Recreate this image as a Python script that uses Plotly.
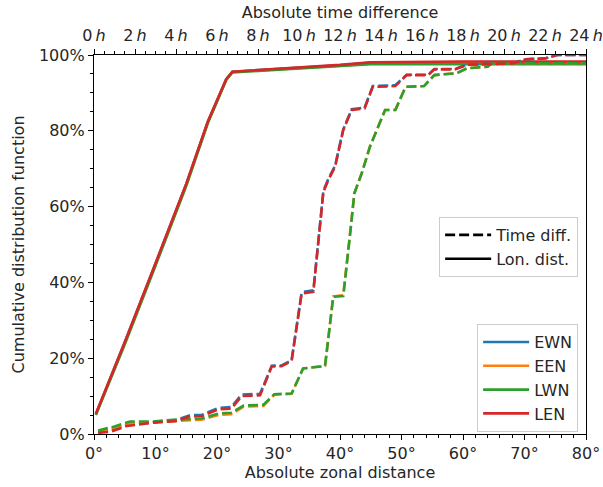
import plotly.graph_objects as go

# ---------------- data ----------------
names = ["EWN", "EEN", "LWN", "LEN"]
colors = ["#1f77b4", "#ff7f0e", "#2ca02c", "#d62728"]

# Longitudinal (zonal) distance CDF, degrees (bottom axis)
lon_deg = [0.3, 5, 10, 15, 18.5, 21.5, 22.5, 30, 35, 40, 45, 50, 60, 70, 80]
lon_ewn = [5.3, 24.2, 45.0, 66.0, 82.4, 93.6, 95.6, 96.3, 96.7, 97.3, 98.0, 98.1, 98.1, 98.1, 98.1]
lon_een = [5.2, 24.0, 44.8, 65.8, 82.2, 93.5, 95.5, 96.2, 96.6, 97.2, 97.8, 97.9, 97.9, 97.9, 97.9]
lon_lwn = [5.0, 23.6, 44.4, 65.4, 82.0, 93.4, 95.4, 96.1, 96.5, 97.0, 97.6, 97.6, 97.6, 97.6, 97.6]
lon_len = [5.3, 24.2, 45.0, 66.0, 82.4, 93.6, 95.6, 96.4, 96.8, 97.4, 98.1, 98.2, 98.3, 98.3, 98.3]

# Absolute time difference CDF, hours (top axis)
t_early = [0.2, 0.8, 1.6, 2.9, 4.0, 4.7, 5.25, 6.07, 6.7, 7.2, 8.1, 8.67, 9.15, 9.64,
           10.13, 10.7, 11.19, 11.43, 11.76, 12.16, 12.57, 13.2, 13.6, 14.7, 15.25,
           16.3, 16.6, 17.6, 18.2, 19.5, 20.4, 21.1, 22.0, 22.6, 24.0]
time_ewn = [0.5, 0.9, 2.4, 3.2, 3.7, 5.0, 5.0, 6.9, 7.1, 10.4, 10.6, 18.0, 18.1, 19.5,
            37.4, 37.9, 64.2, 67.3, 70.8, 80.4, 85.7, 86.1, 91.8, 92.0, 94.8,
            94.8, 96.3, 96.3, 97.5, 97.7, 97.9, 98.9, 99.1, 100, 100]
time_len = [0.3, 0.6, 2.1, 3.0, 3.4, 4.7, 4.7, 6.5, 6.7, 10.0, 10.2, 17.8, 17.9, 19.3,
            37.1, 37.5, 63.9, 67.0, 70.5, 80.2, 85.5, 85.9, 91.6, 91.8, 94.7,
            94.7, 96.2, 96.2, 97.4, 97.6, 97.8, 98.9, 99.1, 100, 100]

t_late = [0.2, 1.0, 1.76, 2.9, 3.7, 5.25, 6.07, 6.7, 7.3, 8.26, 8.8, 9.64, 10.2, 11.27,
          11.67, 12.16, 12.5, 12.7, 13.06, 13.46, 14.2, 14.7, 15.2, 16.1, 16.6, 17.7,
          18.2, 19.2, 19.4, 24.0]
time_een = [0.6, 1.7, 2.8, 3.0, 3.4, 3.8, 5.0, 5.2, 7.2, 7.4, 10.4, 10.6, 17.3, 18.0,
            36.3, 36.6, 53.0, 63.5, 68.8, 75.8, 85.5, 85.5, 91.6, 91.8, 94.7, 95.2,
            96.5, 96.9, 97.8, 97.8]
time_lwn = [0.9, 2.0, 3.3, 3.3, 3.7, 4.1, 5.4, 5.6, 7.5, 7.7, 10.5, 10.7, 17.3, 17.9,
            36.2, 36.4, 53.0, 63.5, 68.8, 75.8, 85.5, 85.5, 91.6, 91.8, 94.7, 95.2,
            96.5, 96.9, 97.8, 97.8]

hour_ticks = list(range(0, 25, 2))
hour_labels = [f"{h}\u2009<i>h</i>" for h in hour_ticks]
deg_ticks = list(range(0, 81, 10))
deg_labels = [f"{d}°" for d in deg_ticks]
pct_ticks = list(range(0, 101, 20))
pct_labels = [f"{p}%" for p in pct_ticks]

# ---------------- figure ----------------
FONT = "DejaVu Sans"
TXT = "#262626"
fig = go.Figure()
LW = 2.6
DASH = "10px,4px"

time_x = [t_early, t_late, t_late, t_early]
time_y = [time_ewn, time_een, time_lwn, time_len]
lon_y = [lon_ewn, lon_een, lon_lwn, lon_len]

for i, n in enumerate(names):
    fig.add_trace(go.Scatter(x=time_x[i], y=time_y[i], mode="lines", xaxis="x2",
                             line=dict(color=colors[i], width=LW, dash=DASH),
                             showlegend=False, hoverinfo="skip"))
for i, n in enumerate(names):
    fig.add_trace(go.Scatter(x=lon_deg, y=lon_y[i], mode="lines", name=n,
                             line=dict(color=colors[i], width=LW),
                             legend="legend2"))

# style legend (black)
fig.add_trace(go.Scatter(x=[None], y=[None], mode="lines", name="Time diff.",
                         line=dict(color="black", width=LW, dash=DASH), legend="legend"))
fig.add_trace(go.Scatter(x=[None], y=[None], mode="lines", name="Lon. dist.",
                         line=dict(color="black", width=LW), legend="legend"))

axis_common = dict(showgrid=False, zeroline=False, showline=True, linecolor="black",
                   linewidth=1.2, ticks="outside", ticklen=5, tickwidth=1.2,
                   tickcolor="black", automargin=False,
                   tickfont=dict(family=FONT, size=16, color=TXT))

fig.update_layout(
    width=603, height=487,
    margin=dict(l=94, r=17, t=55, b=53),
    plot_bgcolor="white", paper_bgcolor="white",
    font=dict(family=FONT, size=16, color=TXT),
    xaxis=dict(range=[0, 80], tickvals=deg_ticks, ticktext=deg_labels,
               title=dict(text="Absolute zonal distance", standoff=4,
                          font=dict(family=FONT, size=16, color=TXT)),
               minor=dict(dtick=2, ticklen=3, tickwidth=1, tickcolor="black", ticks="outside"),
               **axis_common),
    xaxis2=dict(range=[0, 24], overlaying="x", side="top", anchor="y",
                tickvals=hour_ticks, ticktext=hour_labels, ticklabelstandoff=2,
                title=dict(text="Absolute time difference", standoff=2,
                           font=dict(family=FONT, size=16, color=TXT)),
                minor=dict(dtick=0.5, ticklen=3, tickwidth=1, tickcolor="black", ticks="outside"),
                **axis_common),
    yaxis=dict(range=[0, 100], tickvals=pct_ticks, ticktext=pct_labels, mirror=True,
               title=dict(text="Cumulative distribution function", standoff=10,
                          font=dict(family=FONT, size=16, color=TXT)),
               minor=dict(dtick=5, ticklen=3, tickwidth=1, tickcolor="black", ticks="outside"),
               **axis_common),
    legend=dict(x=0.984, y=0.5726, xanchor="right", yanchor="top",
                bgcolor="rgba(255,255,255,0.8)", bordercolor="#cccccc", borderwidth=1,
                itemwidth=46,
                font=dict(family=FONT, size=16, color=TXT), tracegroupgap=0),
    legend2=dict(x=0.984, y=0.005, xanchor="right", yanchor="bottom",
                 bgcolor="rgba(255,255,255,0.8)", bordercolor="#cccccc", borderwidth=1,
                 itemwidth=46,
                 font=dict(family=FONT, size=16, color=TXT), tracegroupgap=0),
)

fig.write_html("out.html", config={"displayModeBar": False},
               post_script="document.body.style.margin='0';document.body.style.overflow='hidden';")
